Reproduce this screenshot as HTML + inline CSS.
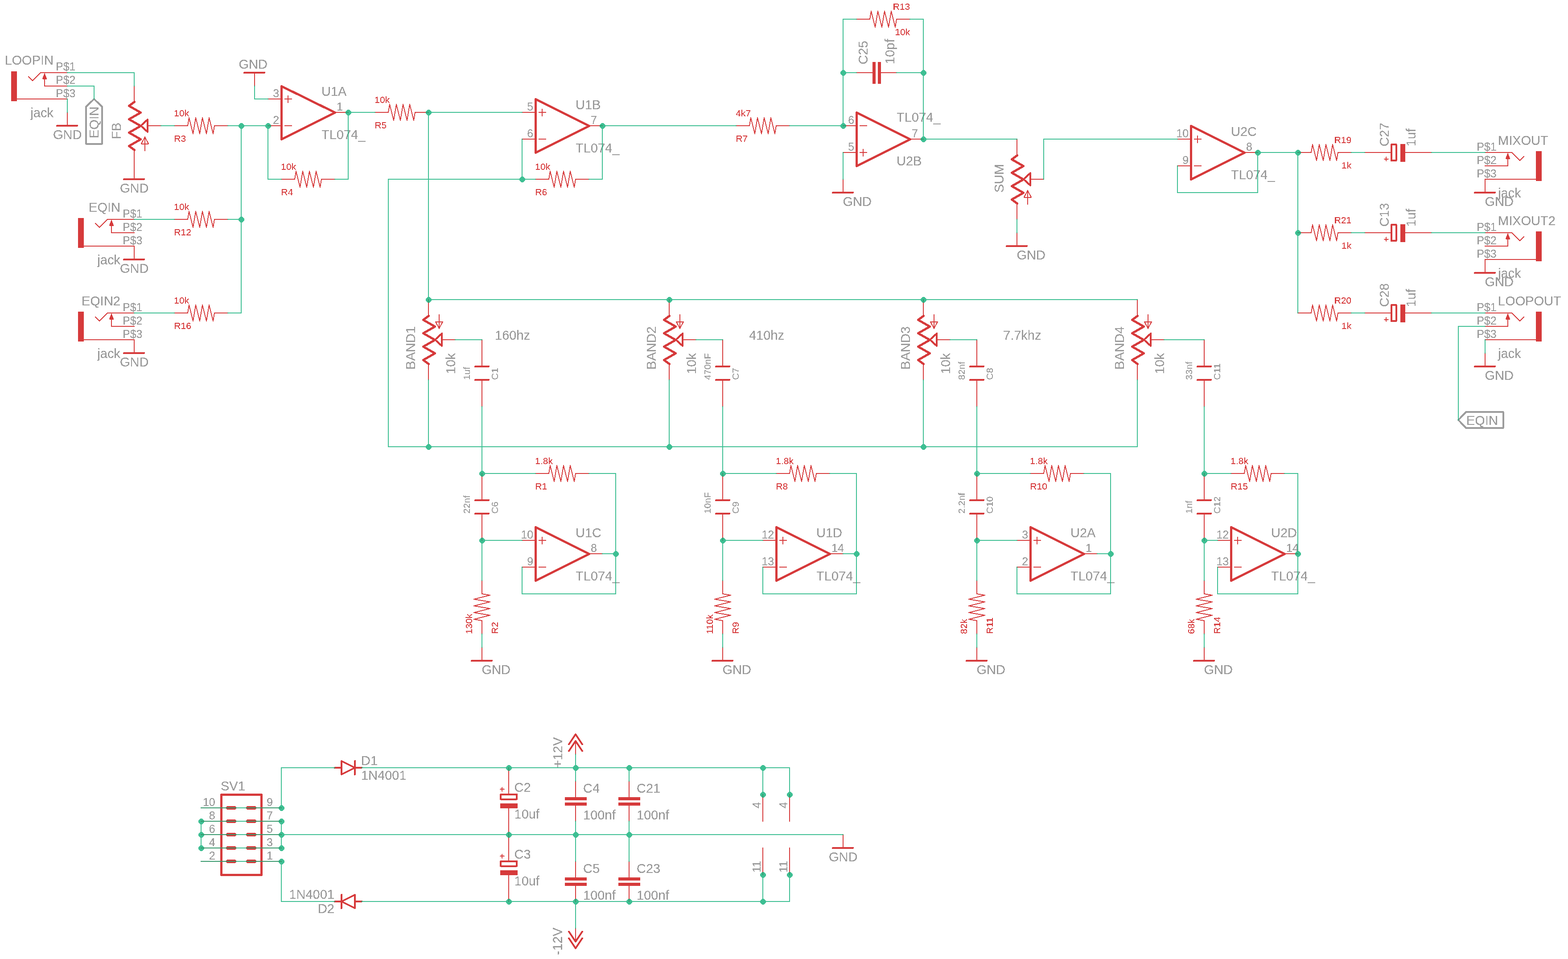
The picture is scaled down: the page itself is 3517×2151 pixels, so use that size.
<!DOCTYPE html>
<html lang="en"><head><meta charset="utf-8"><title>4 band EQ schematic</title>
<style>html,body{margin:0;padding:0;background:#fff}body{width:3517px;height:2151px}svg{display:block}text{font-family:"Liberation Sans",Arial,Helvetica,sans-serif}.fl{fill:inherit}</style></head><body>
<svg width="3517" height="2151" viewBox="0 0 3517 2151" role="img" aria-label="4 band equaliser schematic">
<rect width="3517" height="2151" fill="#fff"/>
<defs><filter id="th" x="0" y="0" width="3517" height="2151" filterUnits="userSpaceOnUse" color-interpolation-filters="sRGB"><feComponentTransfer><feFuncA type="discrete" tableValues="0 0 1 1 1"/></feComponentTransfer></filter></defs>
<g opacity="0.8" fill="none" stroke="#cc090b" shape-rendering="crispEdges" style="fill:none">
<g style="fill:#cc090b">
<polygon points="100.5,164 105.5,178 95.5,178" stroke="none" class="fl"/>
<rect x="25" y="160" width="13" height="67" stroke="none" class="fl"/>
<polygon points="250.5,493 255.5,507 245.5,507" stroke="none" class="fl"/>
<rect x="175" y="489" width="13" height="67" stroke="none" class="fl"/>
<polygon points="250.5,703 255.5,717 245.5,717" stroke="none" class="fl"/>
<rect x="175" y="699" width="13" height="67" stroke="none" class="fl"/>
<polygon points="3382.5,343 3377.5,357 3387.5,357" stroke="none" class="fl"/>
<rect x="3445" y="339" width="13" height="67" stroke="none" class="fl"/>
<polygon points="3382.5,523 3377.5,537 3387.5,537" stroke="none" class="fl"/>
<rect x="3445" y="519" width="13" height="67" stroke="none" class="fl"/>
<polygon points="3382.5,703 3377.5,717 3387.5,717" stroke="none" class="fl"/>
<rect x="3445" y="699" width="13" height="67" stroke="none" class="fl"/>
<rect x="1957" y="139" width="7" height="49" stroke="none" class="fl"/>
<rect x="1969" y="139" width="7" height="49" stroke="none" class="fl"/>
<rect x="1267" y="1788" width="49" height="7" stroke="none" class="fl"/>
<rect x="1267" y="1800" width="49" height="7" stroke="none" class="fl"/>
<rect x="1387" y="1788" width="49" height="7" stroke="none" class="fl"/>
<rect x="1387" y="1800" width="49" height="7" stroke="none" class="fl"/>
<rect x="1267" y="1968" width="49" height="7" stroke="none" class="fl"/>
<rect x="1267" y="1980" width="49" height="7" stroke="none" class="fl"/>
<rect x="1387" y="1968" width="49" height="7" stroke="none" class="fl"/>
<rect x="1387" y="1980" width="49" height="7" stroke="none" class="fl"/>
<rect x="3141" y="323" width="11" height="40" stroke="none" class="fl"/>
<rect x="3141" y="503" width="11" height="40" stroke="none" class="fl"/>
<rect x="3141" y="683" width="11" height="40" stroke="none" class="fl"/>
<rect x="1122" y="1802" width="39" height="11" stroke="none" class="fl"/>
<rect x="1122" y="1952" width="39" height="11" stroke="none" class="fl"/>
</g>
<path d="M391 282 L421 282" stroke-width="2" stroke-linecap="round" stroke-linejoin="round"/>
<path d="M481 282 L511 282" stroke-width="2" stroke-linecap="round" stroke-linejoin="round"/>
<path d="M421 282 L424 264 L433 300 L439 264 L448 300 L454 264 L463 300 L469 264 L478 300 L481 282" stroke-width="2" stroke-linecap="round" stroke-linejoin="round"/>
<path d="M391 492 L421 492" stroke-width="2" stroke-linecap="round" stroke-linejoin="round"/>
<path d="M481 492 L511 492" stroke-width="2" stroke-linecap="round" stroke-linejoin="round"/>
<path d="M421 492 L424 474 L433 510 L439 474 L448 510 L454 474 L463 510 L469 474 L478 510 L481 492" stroke-width="2" stroke-linecap="round" stroke-linejoin="round"/>
<path d="M391 702 L421 702" stroke-width="2" stroke-linecap="round" stroke-linejoin="round"/>
<path d="M481 702 L511 702" stroke-width="2" stroke-linecap="round" stroke-linejoin="round"/>
<path d="M421 702 L424 684 L433 720 L439 684 L448 720 L454 684 L463 720 L469 684 L478 720 L481 702" stroke-width="2" stroke-linecap="round" stroke-linejoin="round"/>
<path d="M631 402 L661 402" stroke-width="2" stroke-linecap="round" stroke-linejoin="round"/>
<path d="M721 402 L751 402" stroke-width="2" stroke-linecap="round" stroke-linejoin="round"/>
<path d="M661 402 L664 384 L673 420 L679 384 L688 420 L694 384 L703 420 L709 384 L718 420 L721 402" stroke-width="2" stroke-linecap="round" stroke-linejoin="round"/>
<path d="M841 252 L871 252" stroke-width="2" stroke-linecap="round" stroke-linejoin="round"/>
<path d="M931 252 L961 252" stroke-width="2" stroke-linecap="round" stroke-linejoin="round"/>
<path d="M871 252 L874 234 L883 270 L889 234 L898 270 L904 234 L913 270 L919 234 L928 270 L931 252" stroke-width="2" stroke-linecap="round" stroke-linejoin="round"/>
<path d="M1201 402 L1231 402" stroke-width="2" stroke-linecap="round" stroke-linejoin="round"/>
<path d="M1291 402 L1321 402" stroke-width="2" stroke-linecap="round" stroke-linejoin="round"/>
<path d="M1231 402 L1234 384 L1243 420 L1249 384 L1258 420 L1264 384 L1273 420 L1279 384 L1288 420 L1291 402" stroke-width="2" stroke-linecap="round" stroke-linejoin="round"/>
<path d="M1651 282 L1681 282" stroke-width="2" stroke-linecap="round" stroke-linejoin="round"/>
<path d="M1741 282 L1771 282" stroke-width="2" stroke-linecap="round" stroke-linejoin="round"/>
<path d="M1681 282 L1684 264 L1693 300 L1699 264 L1708 300 L1714 264 L1723 300 L1729 264 L1738 300 L1741 282" stroke-width="2" stroke-linecap="round" stroke-linejoin="round"/>
<path d="M2041 43 L2011 43" stroke-width="2" stroke-linecap="round" stroke-linejoin="round"/>
<path d="M1951 43 L1921 43" stroke-width="2" stroke-linecap="round" stroke-linejoin="round"/>
<path d="M2011 43 L2008 61 L1999 25 L1993 61 L1984 25 L1978 61 L1969 25 L1963 61 L1954 25 L1951 43" stroke-width="2" stroke-linecap="round" stroke-linejoin="round"/>
<path d="M3031 342 L3001 342" stroke-width="2" stroke-linecap="round" stroke-linejoin="round"/>
<path d="M2941 342 L2911 342" stroke-width="2" stroke-linecap="round" stroke-linejoin="round"/>
<path d="M3001 342 L2998 360 L2989 324 L2983 360 L2974 324 L2968 360 L2959 324 L2953 360 L2944 324 L2941 342" stroke-width="2" stroke-linecap="round" stroke-linejoin="round"/>
<path d="M3031 522 L3001 522" stroke-width="2" stroke-linecap="round" stroke-linejoin="round"/>
<path d="M2941 522 L2911 522" stroke-width="2" stroke-linecap="round" stroke-linejoin="round"/>
<path d="M3001 522 L2998 540 L2989 504 L2983 540 L2974 504 L2968 540 L2959 504 L2953 540 L2944 504 L2941 522" stroke-width="2" stroke-linecap="round" stroke-linejoin="round"/>
<path d="M3031 702 L3001 702" stroke-width="2" stroke-linecap="round" stroke-linejoin="round"/>
<path d="M2941 702 L2911 702" stroke-width="2" stroke-linecap="round" stroke-linejoin="round"/>
<path d="M3001 702 L2998 720 L2989 684 L2983 720 L2974 684 L2968 720 L2959 684 L2953 720 L2944 684 L2941 702" stroke-width="2" stroke-linecap="round" stroke-linejoin="round"/>
<path d="M1201 1062 L1231 1062" stroke-width="2" stroke-linecap="round" stroke-linejoin="round"/>
<path d="M1291 1062 L1321 1062" stroke-width="2" stroke-linecap="round" stroke-linejoin="round"/>
<path d="M1231 1062 L1234 1044 L1243 1080 L1249 1044 L1258 1080 L1264 1044 L1273 1080 L1279 1044 L1288 1080 L1291 1062" stroke-width="2" stroke-linecap="round" stroke-linejoin="round"/>
<path d="M1741 1062 L1771 1062" stroke-width="2" stroke-linecap="round" stroke-linejoin="round"/>
<path d="M1831 1062 L1861 1062" stroke-width="2" stroke-linecap="round" stroke-linejoin="round"/>
<path d="M1771 1062 L1774 1044 L1783 1080 L1789 1044 L1798 1080 L1804 1044 L1813 1080 L1819 1044 L1828 1080 L1831 1062" stroke-width="2" stroke-linecap="round" stroke-linejoin="round"/>
<path d="M2311 1062 L2341 1062" stroke-width="2" stroke-linecap="round" stroke-linejoin="round"/>
<path d="M2401 1062 L2431 1062" stroke-width="2" stroke-linecap="round" stroke-linejoin="round"/>
<path d="M2341 1062 L2344 1044 L2353 1080 L2359 1044 L2368 1080 L2374 1044 L2383 1080 L2389 1044 L2398 1080 L2401 1062" stroke-width="2" stroke-linecap="round" stroke-linejoin="round"/>
<path d="M2761 1062 L2791 1062" stroke-width="2" stroke-linecap="round" stroke-linejoin="round"/>
<path d="M2851 1062 L2881 1062" stroke-width="2" stroke-linecap="round" stroke-linejoin="round"/>
<path d="M2791 1062 L2794 1044 L2803 1080 L2809 1044 L2818 1080 L2824 1044 L2833 1080 L2839 1044 L2848 1080 L2851 1062" stroke-width="2" stroke-linecap="round" stroke-linejoin="round"/>
<path d="M1081 1422 L1081 1392" stroke-width="2" stroke-linecap="round" stroke-linejoin="round"/>
<path d="M1081 1332 L1081 1302" stroke-width="2" stroke-linecap="round" stroke-linejoin="round"/>
<path d="M1081 1392 L1063 1389 L1099 1380 L1063 1374 L1099 1365 L1063 1359 L1099 1350 L1063 1344 L1099 1335 L1081 1332" stroke-width="2" stroke-linecap="round" stroke-linejoin="round"/>
<path d="M1621 1422 L1621 1392" stroke-width="2" stroke-linecap="round" stroke-linejoin="round"/>
<path d="M1621 1332 L1621 1302" stroke-width="2" stroke-linecap="round" stroke-linejoin="round"/>
<path d="M1621 1392 L1603 1389 L1639 1380 L1603 1374 L1639 1365 L1603 1359 L1639 1350 L1603 1344 L1639 1335 L1621 1332" stroke-width="2" stroke-linecap="round" stroke-linejoin="round"/>
<path d="M2191 1422 L2191 1392" stroke-width="2" stroke-linecap="round" stroke-linejoin="round"/>
<path d="M2191 1332 L2191 1302" stroke-width="2" stroke-linecap="round" stroke-linejoin="round"/>
<path d="M2191 1392 L2173 1389 L2209 1380 L2173 1374 L2209 1365 L2173 1359 L2209 1350 L2173 1344 L2209 1335 L2191 1332" stroke-width="2" stroke-linecap="round" stroke-linejoin="round"/>
<path d="M2701 1422 L2701 1392" stroke-width="2" stroke-linecap="round" stroke-linejoin="round"/>
<path d="M2701 1332 L2701 1302" stroke-width="2" stroke-linecap="round" stroke-linejoin="round"/>
<path d="M2701 1392 L2683 1389 L2719 1380 L2683 1374 L2719 1365 L2683 1359 L2719 1350 L2683 1344 L2719 1335 L2701 1332" stroke-width="2" stroke-linecap="round" stroke-linejoin="round"/>
<path d="M631.5 193.5 L751.5 252.5 L631.5 312.5Z" stroke-width="5" stroke-linecap="round" stroke-linejoin="round"/>
<path d="M601 222 L631 222" stroke-width="2" stroke-linecap="round" stroke-linejoin="round"/>
<path d="M601 282 L631 282" stroke-width="2" stroke-linecap="round" stroke-linejoin="round"/>
<path d="M781 252 L751 252" stroke-width="2" stroke-linecap="round" stroke-linejoin="round"/>
<path d="M638.5 222 L654.5 222" stroke-width="2" stroke-linecap="round" stroke-linejoin="round"/>
<path d="M646 214.5 L646 230.5" stroke-width="2" stroke-linecap="round" stroke-linejoin="round"/>
<path d="M638.5 282 L654.5 282" stroke-width="2" stroke-linecap="round" stroke-linejoin="round"/>
<path d="M1201.5 222.5 L1321.5 282.5 L1201.5 342.5Z" stroke-width="5" stroke-linecap="round" stroke-linejoin="round"/>
<path d="M1171 252 L1201 252" stroke-width="2" stroke-linecap="round" stroke-linejoin="round"/>
<path d="M1171 312 L1201 312" stroke-width="2" stroke-linecap="round" stroke-linejoin="round"/>
<path d="M1351 282 L1321 282" stroke-width="2" stroke-linecap="round" stroke-linejoin="round"/>
<path d="M1208.5 252 L1224.5 252" stroke-width="2" stroke-linecap="round" stroke-linejoin="round"/>
<path d="M1216 244.5 L1216 260.5" stroke-width="2" stroke-linecap="round" stroke-linejoin="round"/>
<path d="M1208.5 312 L1224.5 312" stroke-width="2" stroke-linecap="round" stroke-linejoin="round"/>
<path d="M1921.5 372.5 L2041.5 312.5 L1921.5 252.5Z" stroke-width="5" stroke-linecap="round" stroke-linejoin="round"/>
<path d="M1891 342 L1921 342" stroke-width="2" stroke-linecap="round" stroke-linejoin="round"/>
<path d="M1891 282 L1921 282" stroke-width="2" stroke-linecap="round" stroke-linejoin="round"/>
<path d="M2071 312 L2041 312" stroke-width="2" stroke-linecap="round" stroke-linejoin="round"/>
<path d="M1928.5 342 L1944.5 342" stroke-width="2" stroke-linecap="round" stroke-linejoin="round"/>
<path d="M1936 334.5 L1936 350.5" stroke-width="2" stroke-linecap="round" stroke-linejoin="round"/>
<path d="M1928.5 282 L1944.5 282" stroke-width="2" stroke-linecap="round" stroke-linejoin="round"/>
<path d="M2671.5 282.5 L2791.5 342.5 L2671.5 402.5Z" stroke-width="5" stroke-linecap="round" stroke-linejoin="round"/>
<path d="M2641 312 L2671 312" stroke-width="2" stroke-linecap="round" stroke-linejoin="round"/>
<path d="M2641 372 L2671 372" stroke-width="2" stroke-linecap="round" stroke-linejoin="round"/>
<path d="M2821 342 L2791 342" stroke-width="2" stroke-linecap="round" stroke-linejoin="round"/>
<path d="M2678.5 312 L2694.5 312" stroke-width="2" stroke-linecap="round" stroke-linejoin="round"/>
<path d="M2686 304.5 L2686 320.5" stroke-width="2" stroke-linecap="round" stroke-linejoin="round"/>
<path d="M2678.5 372 L2694.5 372" stroke-width="2" stroke-linecap="round" stroke-linejoin="round"/>
<path d="M1201.5 1182.5 L1321.5 1242.5 L1201.5 1302.5Z" stroke-width="5" stroke-linecap="round" stroke-linejoin="round"/>
<path d="M1171 1212 L1201 1212" stroke-width="2" stroke-linecap="round" stroke-linejoin="round"/>
<path d="M1171 1272 L1201 1272" stroke-width="2" stroke-linecap="round" stroke-linejoin="round"/>
<path d="M1351 1242 L1321 1242" stroke-width="2" stroke-linecap="round" stroke-linejoin="round"/>
<path d="M1208.5 1212 L1224.5 1212" stroke-width="2" stroke-linecap="round" stroke-linejoin="round"/>
<path d="M1216 1204.5 L1216 1220.5" stroke-width="2" stroke-linecap="round" stroke-linejoin="round"/>
<path d="M1208.5 1272 L1224.5 1272" stroke-width="2" stroke-linecap="round" stroke-linejoin="round"/>
<path d="M1741.5 1182.5 L1861.5 1242.5 L1741.5 1302.5Z" stroke-width="5" stroke-linecap="round" stroke-linejoin="round"/>
<path d="M1711 1212 L1741 1212" stroke-width="2" stroke-linecap="round" stroke-linejoin="round"/>
<path d="M1711 1272 L1741 1272" stroke-width="2" stroke-linecap="round" stroke-linejoin="round"/>
<path d="M1891 1242 L1861 1242" stroke-width="2" stroke-linecap="round" stroke-linejoin="round"/>
<path d="M1748.5 1212 L1764.5 1212" stroke-width="2" stroke-linecap="round" stroke-linejoin="round"/>
<path d="M1756 1204.5 L1756 1220.5" stroke-width="2" stroke-linecap="round" stroke-linejoin="round"/>
<path d="M1748.5 1272 L1764.5 1272" stroke-width="2" stroke-linecap="round" stroke-linejoin="round"/>
<path d="M2311.5 1182.5 L2431.5 1242.5 L2311.5 1302.5Z" stroke-width="5" stroke-linecap="round" stroke-linejoin="round"/>
<path d="M2281 1212 L2311 1212" stroke-width="2" stroke-linecap="round" stroke-linejoin="round"/>
<path d="M2281 1272 L2311 1272" stroke-width="2" stroke-linecap="round" stroke-linejoin="round"/>
<path d="M2461 1242 L2431 1242" stroke-width="2" stroke-linecap="round" stroke-linejoin="round"/>
<path d="M2318.5 1212 L2334.5 1212" stroke-width="2" stroke-linecap="round" stroke-linejoin="round"/>
<path d="M2326 1204.5 L2326 1220.5" stroke-width="2" stroke-linecap="round" stroke-linejoin="round"/>
<path d="M2318.5 1272 L2334.5 1272" stroke-width="2" stroke-linecap="round" stroke-linejoin="round"/>
<path d="M2761.5 1182.5 L2881.5 1242.5 L2761.5 1302.5Z" stroke-width="5" stroke-linecap="round" stroke-linejoin="round"/>
<path d="M2731 1212 L2761 1212" stroke-width="2" stroke-linecap="round" stroke-linejoin="round"/>
<path d="M2731 1272 L2761 1272" stroke-width="2" stroke-linecap="round" stroke-linejoin="round"/>
<path d="M2911 1242 L2881 1242" stroke-width="2" stroke-linecap="round" stroke-linejoin="round"/>
<path d="M2768.5 1212 L2784.5 1212" stroke-width="2" stroke-linecap="round" stroke-linejoin="round"/>
<path d="M2776 1204.5 L2776 1220.5" stroke-width="2" stroke-linecap="round" stroke-linejoin="round"/>
<path d="M2768.5 1272 L2784.5 1272" stroke-width="2" stroke-linecap="round" stroke-linejoin="round"/>
<path d="M301 193 L301 228" stroke-width="2" stroke-linecap="round" stroke-linejoin="round"/>
<path d="M301 372 L301 336" stroke-width="2" stroke-linecap="round" stroke-linejoin="round"/>
<path d="M301.5 228.5 L289.5 237.5 L315.5 252.5 L289.5 267.5 L315.5 282.5 L289.5 297.5 L315.5 312.5 L289.5 327.5 L301.5 336.5" stroke-width="5" stroke-linecap="round" stroke-linejoin="round"/>
<path d="M316 282 L331 268 L331 296Z" stroke-width="4" stroke-linecap="round" stroke-linejoin="round"/>
<path d="M331 282 L361 282" stroke-width="2" stroke-linecap="round" stroke-linejoin="round"/>
<path d="M325 338 L325 307" stroke-width="2" stroke-linecap="round" stroke-linejoin="round"/>
<path d="M317 322.5 L333 322.5 L325 307Z" stroke-width="2" stroke-linecap="round" stroke-linejoin="round"/>
<path d="M2281 312 L2281 348" stroke-width="2" stroke-linecap="round" stroke-linejoin="round"/>
<path d="M2281 492 L2281 456" stroke-width="2" stroke-linecap="round" stroke-linejoin="round"/>
<path d="M2281.5 348.5 L2269.5 357.5 L2295.5 372.5 L2269.5 387.5 L2295.5 402.5 L2269.5 417.5 L2295.5 432.5 L2269.5 447.5 L2281.5 456.5" stroke-width="5" stroke-linecap="round" stroke-linejoin="round"/>
<path d="M2296 402 L2311 388 L2311 416Z" stroke-width="4" stroke-linecap="round" stroke-linejoin="round"/>
<path d="M2311 402 L2341 402" stroke-width="2" stroke-linecap="round" stroke-linejoin="round"/>
<path d="M2305 458 L2305 427" stroke-width="2" stroke-linecap="round" stroke-linejoin="round"/>
<path d="M2297 442.5 L2313 442.5 L2305 427Z" stroke-width="2" stroke-linecap="round" stroke-linejoin="round"/>
<path d="M961 852 L961 816" stroke-width="2" stroke-linecap="round" stroke-linejoin="round"/>
<path d="M961 672 L961 708" stroke-width="2" stroke-linecap="round" stroke-linejoin="round"/>
<path d="M961.5 816.5 L949.5 807.5 L975.5 792.5 L949.5 777.5 L975.5 762.5 L949.5 747.5 L975.5 732.5 L949.5 717.5 L961.5 708.5" stroke-width="5" stroke-linecap="round" stroke-linejoin="round"/>
<path d="M976 762 L991 776 L991 748Z" stroke-width="4" stroke-linecap="round" stroke-linejoin="round"/>
<path d="M991 762 L1021 762" stroke-width="2" stroke-linecap="round" stroke-linejoin="round"/>
<path d="M985 706 L985 737" stroke-width="2" stroke-linecap="round" stroke-linejoin="round"/>
<path d="M977 721.5 L993 721.5 L985 737Z" stroke-width="2" stroke-linecap="round" stroke-linejoin="round"/>
<path d="M1501 852 L1501 816" stroke-width="2" stroke-linecap="round" stroke-linejoin="round"/>
<path d="M1501 672 L1501 708" stroke-width="2" stroke-linecap="round" stroke-linejoin="round"/>
<path d="M1501.5 816.5 L1489.5 807.5 L1515.5 792.5 L1489.5 777.5 L1515.5 762.5 L1489.5 747.5 L1515.5 732.5 L1489.5 717.5 L1501.5 708.5" stroke-width="5" stroke-linecap="round" stroke-linejoin="round"/>
<path d="M1516 762 L1531 776 L1531 748Z" stroke-width="4" stroke-linecap="round" stroke-linejoin="round"/>
<path d="M1531 762 L1561 762" stroke-width="2" stroke-linecap="round" stroke-linejoin="round"/>
<path d="M1525 706 L1525 737" stroke-width="2" stroke-linecap="round" stroke-linejoin="round"/>
<path d="M1517 721.5 L1533 721.5 L1525 737Z" stroke-width="2" stroke-linecap="round" stroke-linejoin="round"/>
<path d="M2071 852 L2071 816" stroke-width="2" stroke-linecap="round" stroke-linejoin="round"/>
<path d="M2071 672 L2071 708" stroke-width="2" stroke-linecap="round" stroke-linejoin="round"/>
<path d="M2071.5 816.5 L2059.5 807.5 L2085.5 792.5 L2059.5 777.5 L2085.5 762.5 L2059.5 747.5 L2085.5 732.5 L2059.5 717.5 L2071.5 708.5" stroke-width="5" stroke-linecap="round" stroke-linejoin="round"/>
<path d="M2086 762 L2101 776 L2101 748Z" stroke-width="4" stroke-linecap="round" stroke-linejoin="round"/>
<path d="M2101 762 L2131 762" stroke-width="2" stroke-linecap="round" stroke-linejoin="round"/>
<path d="M2095 706 L2095 737" stroke-width="2" stroke-linecap="round" stroke-linejoin="round"/>
<path d="M2087 721.5 L2103 721.5 L2095 737Z" stroke-width="2" stroke-linecap="round" stroke-linejoin="round"/>
<path d="M2551 852 L2551 816" stroke-width="2" stroke-linecap="round" stroke-linejoin="round"/>
<path d="M2551 672 L2551 708" stroke-width="2" stroke-linecap="round" stroke-linejoin="round"/>
<path d="M2551.5 816.5 L2539.5 807.5 L2565.5 792.5 L2539.5 777.5 L2565.5 762.5 L2539.5 747.5 L2565.5 732.5 L2539.5 717.5 L2551.5 708.5" stroke-width="5" stroke-linecap="round" stroke-linejoin="round"/>
<path d="M2566 762 L2581 776 L2581 748Z" stroke-width="4" stroke-linecap="round" stroke-linejoin="round"/>
<path d="M2581 762 L2611 762" stroke-width="2" stroke-linecap="round" stroke-linejoin="round"/>
<path d="M2575 706 L2575 737" stroke-width="2" stroke-linecap="round" stroke-linejoin="round"/>
<path d="M2567 721.5 L2583 721.5 L2575 737Z" stroke-width="2" stroke-linecap="round" stroke-linejoin="round"/>
<path d="M151 163 L91 163 L73 181 L64 172" stroke-width="2" stroke-linecap="round" stroke-linejoin="round"/>
<path d="M151 193 L100 193 L100 173" stroke-width="2" stroke-linecap="square" stroke-linejoin="miter"/>
<path d="M100 166 L104 176.5 L96 176.5Z" stroke-width="2" stroke-linecap="round" stroke-linejoin="round"/>
<path d="M151 222 L37.5 222" stroke-width="2" stroke-linecap="round" stroke-linejoin="round"/>
<path d="M301 492 L241 492 L223 510 L214 501" stroke-width="2" stroke-linecap="round" stroke-linejoin="round"/>
<path d="M301 522 L250 522 L250 502" stroke-width="2" stroke-linecap="square" stroke-linejoin="miter"/>
<path d="M250 495 L254 505.5 L246 505.5Z" stroke-width="2" stroke-linecap="round" stroke-linejoin="round"/>
<path d="M301 552 L187.5 552" stroke-width="2" stroke-linecap="round" stroke-linejoin="round"/>
<path d="M301 702 L241 702 L223 720 L214 711" stroke-width="2" stroke-linecap="round" stroke-linejoin="round"/>
<path d="M301 732 L250 732 L250 712" stroke-width="2" stroke-linecap="square" stroke-linejoin="miter"/>
<path d="M250 705 L254 715.5 L246 715.5Z" stroke-width="2" stroke-linecap="round" stroke-linejoin="round"/>
<path d="M301 762 L187.5 762" stroke-width="2" stroke-linecap="round" stroke-linejoin="round"/>
<path d="M3331 342 L3391 342 L3409 360 L3418 351" stroke-width="2" stroke-linecap="round" stroke-linejoin="round"/>
<path d="M3331 372 L3382 372 L3382 352" stroke-width="2" stroke-linecap="square" stroke-linejoin="miter"/>
<path d="M3382 345 L3378 355.5 L3386 355.5Z" stroke-width="2" stroke-linecap="round" stroke-linejoin="round"/>
<path d="M3331 402 L3444.5 402" stroke-width="2" stroke-linecap="round" stroke-linejoin="round"/>
<path d="M3331 522 L3391 522 L3409 540 L3418 531" stroke-width="2" stroke-linecap="round" stroke-linejoin="round"/>
<path d="M3331 552 L3382 552 L3382 532" stroke-width="2" stroke-linecap="square" stroke-linejoin="miter"/>
<path d="M3382 525 L3378 535.5 L3386 535.5Z" stroke-width="2" stroke-linecap="round" stroke-linejoin="round"/>
<path d="M3331 582 L3444.5 582" stroke-width="2" stroke-linecap="round" stroke-linejoin="round"/>
<path d="M3331 702 L3391 702 L3409 720 L3418 711" stroke-width="2" stroke-linecap="round" stroke-linejoin="round"/>
<path d="M3331 732 L3382 732 L3382 712" stroke-width="2" stroke-linecap="square" stroke-linejoin="miter"/>
<path d="M3382 705 L3378 715.5 L3386 715.5Z" stroke-width="2" stroke-linecap="round" stroke-linejoin="round"/>
<path d="M3331 762 L3444.5 762" stroke-width="2" stroke-linecap="round" stroke-linejoin="round"/>
<path d="M128 282 L173 282" stroke-width="4" stroke-linecap="round" stroke-linejoin="round"/>
<path d="M151 282 L151 252" stroke-width="2" stroke-linecap="round" stroke-linejoin="round"/>
<path d="M278 402 L323 402" stroke-width="4" stroke-linecap="round" stroke-linejoin="round"/>
<path d="M301 402 L301 372" stroke-width="2" stroke-linecap="round" stroke-linejoin="round"/>
<path d="M548 163 L593 163" stroke-width="4" stroke-linecap="round" stroke-linejoin="round"/>
<path d="M571 163 L571 193" stroke-width="2" stroke-linecap="round" stroke-linejoin="round"/>
<path d="M278 582 L323 582" stroke-width="4" stroke-linecap="round" stroke-linejoin="round"/>
<path d="M301 582 L301 552" stroke-width="2" stroke-linecap="round" stroke-linejoin="round"/>
<path d="M278 792 L323 792" stroke-width="4" stroke-linecap="round" stroke-linejoin="round"/>
<path d="M301 792 L301 762" stroke-width="2" stroke-linecap="round" stroke-linejoin="round"/>
<path d="M1868 432 L1913 432" stroke-width="4" stroke-linecap="round" stroke-linejoin="round"/>
<path d="M1891 432 L1891 402" stroke-width="2" stroke-linecap="round" stroke-linejoin="round"/>
<path d="M2258 552 L2303 552" stroke-width="4" stroke-linecap="round" stroke-linejoin="round"/>
<path d="M2281 552 L2281 522" stroke-width="2" stroke-linecap="round" stroke-linejoin="round"/>
<path d="M3308 432 L3353 432" stroke-width="4" stroke-linecap="round" stroke-linejoin="round"/>
<path d="M3331 432 L3331 402" stroke-width="2" stroke-linecap="round" stroke-linejoin="round"/>
<path d="M3308 612 L3353 612" stroke-width="4" stroke-linecap="round" stroke-linejoin="round"/>
<path d="M3331 612 L3331 582" stroke-width="2" stroke-linecap="round" stroke-linejoin="round"/>
<path d="M3308 822 L3353 822" stroke-width="4" stroke-linecap="round" stroke-linejoin="round"/>
<path d="M3331 822 L3331 792" stroke-width="2" stroke-linecap="round" stroke-linejoin="round"/>
<path d="M1058 1482 L1103 1482" stroke-width="4" stroke-linecap="round" stroke-linejoin="round"/>
<path d="M1081 1482 L1081 1452" stroke-width="2" stroke-linecap="round" stroke-linejoin="round"/>
<path d="M1598 1482 L1643 1482" stroke-width="4" stroke-linecap="round" stroke-linejoin="round"/>
<path d="M1621 1482 L1621 1452" stroke-width="2" stroke-linecap="round" stroke-linejoin="round"/>
<path d="M2168 1482 L2213 1482" stroke-width="4" stroke-linecap="round" stroke-linejoin="round"/>
<path d="M2191 1482 L2191 1452" stroke-width="2" stroke-linecap="round" stroke-linejoin="round"/>
<path d="M2678 1482 L2723 1482" stroke-width="4" stroke-linecap="round" stroke-linejoin="round"/>
<path d="M2701 1482 L2701 1452" stroke-width="2" stroke-linecap="round" stroke-linejoin="round"/>
<path d="M1868 1902 L1913 1902" stroke-width="4" stroke-linecap="round" stroke-linejoin="round"/>
<path d="M1891 1902 L1891 1872" stroke-width="2" stroke-linecap="round" stroke-linejoin="round"/>
<path d="M1081 762 L1081 822" stroke-width="2" stroke-linecap="round" stroke-linejoin="round"/>
<path d="M1081 852 L1081 912" stroke-width="2" stroke-linecap="round" stroke-linejoin="round"/>
<path d="M1066 822 L1096 822" stroke-width="4" stroke-linecap="round" stroke-linejoin="round"/>
<path d="M1066 852 L1096 852" stroke-width="4" stroke-linecap="round" stroke-linejoin="round"/>
<path d="M1621 762 L1621 822" stroke-width="2" stroke-linecap="round" stroke-linejoin="round"/>
<path d="M1621 852 L1621 912" stroke-width="2" stroke-linecap="round" stroke-linejoin="round"/>
<path d="M1606 822 L1636 822" stroke-width="4" stroke-linecap="round" stroke-linejoin="round"/>
<path d="M1606 852 L1636 852" stroke-width="4" stroke-linecap="round" stroke-linejoin="round"/>
<path d="M2191 762 L2191 822" stroke-width="2" stroke-linecap="round" stroke-linejoin="round"/>
<path d="M2191 852 L2191 912" stroke-width="2" stroke-linecap="round" stroke-linejoin="round"/>
<path d="M2176 822 L2206 822" stroke-width="4" stroke-linecap="round" stroke-linejoin="round"/>
<path d="M2176 852 L2206 852" stroke-width="4" stroke-linecap="round" stroke-linejoin="round"/>
<path d="M2701 762 L2701 822" stroke-width="2" stroke-linecap="round" stroke-linejoin="round"/>
<path d="M2701 852 L2701 912" stroke-width="2" stroke-linecap="round" stroke-linejoin="round"/>
<path d="M2686 822 L2716 822" stroke-width="4" stroke-linecap="round" stroke-linejoin="round"/>
<path d="M2686 852 L2716 852" stroke-width="4" stroke-linecap="round" stroke-linejoin="round"/>
<path d="M1081 1062 L1081 1122" stroke-width="2" stroke-linecap="round" stroke-linejoin="round"/>
<path d="M1081 1152 L1081 1212" stroke-width="2" stroke-linecap="round" stroke-linejoin="round"/>
<path d="M1066 1122 L1096 1122" stroke-width="4" stroke-linecap="round" stroke-linejoin="round"/>
<path d="M1066 1152 L1096 1152" stroke-width="4" stroke-linecap="round" stroke-linejoin="round"/>
<path d="M1621 1062 L1621 1122" stroke-width="2" stroke-linecap="round" stroke-linejoin="round"/>
<path d="M1621 1152 L1621 1212" stroke-width="2" stroke-linecap="round" stroke-linejoin="round"/>
<path d="M1606 1122 L1636 1122" stroke-width="4" stroke-linecap="round" stroke-linejoin="round"/>
<path d="M1606 1152 L1636 1152" stroke-width="4" stroke-linecap="round" stroke-linejoin="round"/>
<path d="M2191 1062 L2191 1122" stroke-width="2" stroke-linecap="round" stroke-linejoin="round"/>
<path d="M2191 1152 L2191 1212" stroke-width="2" stroke-linecap="round" stroke-linejoin="round"/>
<path d="M2176 1122 L2206 1122" stroke-width="4" stroke-linecap="round" stroke-linejoin="round"/>
<path d="M2176 1152 L2206 1152" stroke-width="4" stroke-linecap="round" stroke-linejoin="round"/>
<path d="M2701 1062 L2701 1122" stroke-width="2" stroke-linecap="round" stroke-linejoin="round"/>
<path d="M2701 1152 L2701 1212" stroke-width="2" stroke-linecap="round" stroke-linejoin="round"/>
<path d="M2686 1122 L2716 1122" stroke-width="4" stroke-linecap="round" stroke-linejoin="round"/>
<path d="M2686 1152 L2716 1152" stroke-width="4" stroke-linecap="round" stroke-linejoin="round"/>
<path d="M1921 163 L1957 163" stroke-width="2" stroke-linecap="round" stroke-linejoin="round"/>
<path d="M2011 163 L1975 163" stroke-width="2" stroke-linecap="round" stroke-linejoin="round"/>
<path d="M1291 1752 L1291 1788" stroke-width="2" stroke-linecap="round" stroke-linejoin="round"/>
<path d="M1291 1842 L1291 1806" stroke-width="2" stroke-linecap="round" stroke-linejoin="round"/>
<path d="M1411 1752 L1411 1788" stroke-width="2" stroke-linecap="round" stroke-linejoin="round"/>
<path d="M1411 1842 L1411 1806" stroke-width="2" stroke-linecap="round" stroke-linejoin="round"/>
<path d="M1291 1932 L1291 1968" stroke-width="2" stroke-linecap="round" stroke-linejoin="round"/>
<path d="M1291 2022 L1291 1986" stroke-width="2" stroke-linecap="round" stroke-linejoin="round"/>
<path d="M1411 1932 L1411 1968" stroke-width="2" stroke-linecap="round" stroke-linejoin="round"/>
<path d="M1411 2022 L1411 1986" stroke-width="2" stroke-linecap="round" stroke-linejoin="round"/>
<path d="M3061 342 L3121 342" stroke-width="2" stroke-linecap="round" stroke-linejoin="round"/>
<path d="M3211 342 L3151 342" stroke-width="2" stroke-linecap="round" stroke-linejoin="round"/>
<path d="M3121 360 L3121 324 L3131.5 324 L3131.5 360Z" stroke-width="4" stroke-linecap="round" stroke-linejoin="round"/>
<path d="M3104.9 356.6 L3113.9 356.6" stroke-width="2" stroke-linecap="round" stroke-linejoin="round"/>
<path d="M3109.4 352.1 L3109.4 361.1" stroke-width="2" stroke-linecap="round" stroke-linejoin="round"/>
<path d="M3061 522 L3121 522" stroke-width="2" stroke-linecap="round" stroke-linejoin="round"/>
<path d="M3211 522 L3151 522" stroke-width="2" stroke-linecap="round" stroke-linejoin="round"/>
<path d="M3121 540 L3121 504 L3131.5 504 L3131.5 540Z" stroke-width="4" stroke-linecap="round" stroke-linejoin="round"/>
<path d="M3104.9 536.6 L3113.9 536.6" stroke-width="2" stroke-linecap="round" stroke-linejoin="round"/>
<path d="M3109.4 532.1 L3109.4 541.1" stroke-width="2" stroke-linecap="round" stroke-linejoin="round"/>
<path d="M3061 702 L3121 702" stroke-width="2" stroke-linecap="round" stroke-linejoin="round"/>
<path d="M3211 702 L3151 702" stroke-width="2" stroke-linecap="round" stroke-linejoin="round"/>
<path d="M3121 720 L3121 684 L3131.5 684 L3131.5 720Z" stroke-width="4" stroke-linecap="round" stroke-linejoin="round"/>
<path d="M3104.9 716.6 L3113.9 716.6" stroke-width="2" stroke-linecap="round" stroke-linejoin="round"/>
<path d="M3109.4 712.1 L3109.4 721.1" stroke-width="2" stroke-linecap="round" stroke-linejoin="round"/>
<path d="M1141 1722 L1141 1782" stroke-width="2" stroke-linecap="round" stroke-linejoin="round"/>
<path d="M1141 1872 L1141 1812" stroke-width="2" stroke-linecap="round" stroke-linejoin="round"/>
<path d="M1123 1782 L1159 1782 L1159 1792.5 L1123 1792.5Z" stroke-width="4" stroke-linecap="round" stroke-linejoin="round"/>
<path d="M1121.9 1770.4 L1130.9 1770.4" stroke-width="2" stroke-linecap="round" stroke-linejoin="round"/>
<path d="M1126.4 1765.9 L1126.4 1774.9" stroke-width="2" stroke-linecap="round" stroke-linejoin="round"/>
<path d="M1141 1872 L1141 1932" stroke-width="2" stroke-linecap="round" stroke-linejoin="round"/>
<path d="M1141 2022 L1141 1962" stroke-width="2" stroke-linecap="round" stroke-linejoin="round"/>
<path d="M1123 1932 L1159 1932 L1159 1942.5 L1123 1942.5Z" stroke-width="4" stroke-linecap="round" stroke-linejoin="round"/>
<path d="M1121.9 1920.4 L1130.9 1920.4" stroke-width="2" stroke-linecap="round" stroke-linejoin="round"/>
<path d="M1126.4 1915.9 L1126.4 1924.9" stroke-width="2" stroke-linecap="round" stroke-linejoin="round"/>
<path d="M751 1722 L766 1722" stroke-width="4" stroke-linecap="round" stroke-linejoin="round"/>
<path d="M796 1722 L811 1722" stroke-width="4" stroke-linecap="round" stroke-linejoin="round"/>
<path d="M766 1707 L796 1722 L766 1737Z" stroke-width="4" stroke-linecap="round" stroke-linejoin="round"/>
<path d="M796 1707 L796 1737" stroke-width="4" stroke-linecap="round" stroke-linejoin="round"/>
<path d="M811 2022 L796 2022" stroke-width="4" stroke-linecap="round" stroke-linejoin="round"/>
<path d="M766 2022 L751 2022" stroke-width="4" stroke-linecap="round" stroke-linejoin="round"/>
<path d="M796 2037 L766 2022 L796 2007Z" stroke-width="4" stroke-linecap="round" stroke-linejoin="round"/>
<path d="M766 2037 L766 2007" stroke-width="4" stroke-linecap="round" stroke-linejoin="round"/>
<path d="M496.5 1782.5 L586.5 1782.5 L586.5 1962.5 L496.5 1962.5Z" stroke-width="5" stroke-linecap="round" stroke-linejoin="round"/>
<path d="M451 1812 L511 1812" stroke-width="2" stroke-linecap="round" stroke-linejoin="round"/>
<path d="M631 1812 L571 1812" stroke-width="2" stroke-linecap="round" stroke-linejoin="round"/>
<path d="M511 1812 L526 1812" stroke-width="8" stroke-linecap="round" stroke-linejoin="round"/>
<path d="M556 1812 L571 1812" stroke-width="8" stroke-linecap="round" stroke-linejoin="round"/>
<path d="M451 1842 L511 1842" stroke-width="2" stroke-linecap="round" stroke-linejoin="round"/>
<path d="M631 1842 L571 1842" stroke-width="2" stroke-linecap="round" stroke-linejoin="round"/>
<path d="M511 1842 L526 1842" stroke-width="8" stroke-linecap="round" stroke-linejoin="round"/>
<path d="M556 1842 L571 1842" stroke-width="8" stroke-linecap="round" stroke-linejoin="round"/>
<path d="M451 1872 L511 1872" stroke-width="2" stroke-linecap="round" stroke-linejoin="round"/>
<path d="M631 1872 L571 1872" stroke-width="2" stroke-linecap="round" stroke-linejoin="round"/>
<path d="M511 1872 L526 1872" stroke-width="8" stroke-linecap="round" stroke-linejoin="round"/>
<path d="M556 1872 L571 1872" stroke-width="8" stroke-linecap="round" stroke-linejoin="round"/>
<path d="M451 1902 L511 1902" stroke-width="2" stroke-linecap="round" stroke-linejoin="round"/>
<path d="M631 1902 L571 1902" stroke-width="2" stroke-linecap="round" stroke-linejoin="round"/>
<path d="M511 1902 L526 1902" stroke-width="8" stroke-linecap="round" stroke-linejoin="round"/>
<path d="M556 1902 L571 1902" stroke-width="8" stroke-linecap="round" stroke-linejoin="round"/>
<path d="M451 1932 L511 1932" stroke-width="2" stroke-linecap="round" stroke-linejoin="round"/>
<path d="M631 1932 L571 1932" stroke-width="2" stroke-linecap="round" stroke-linejoin="round"/>
<path d="M511 1932 L526 1932" stroke-width="8" stroke-linecap="round" stroke-linejoin="round"/>
<path d="M556 1932 L571 1932" stroke-width="8" stroke-linecap="round" stroke-linejoin="round"/>
<path d="M1291 1692 L1291 1662" stroke-width="2" stroke-linecap="round" stroke-linejoin="round"/>
<path d="M1276 1684.5 L1291 1662 L1306 1684.5" stroke-width="4" stroke-linecap="round" stroke-linejoin="round"/>
<path d="M1276 1669.5 L1291 1647 L1306 1669.5" stroke-width="4" stroke-linecap="round" stroke-linejoin="round"/>
<path d="M1291 2082 L1291 2112" stroke-width="2" stroke-linecap="round" stroke-linejoin="round"/>
<path d="M1276 2089.5 L1291 2112 L1306 2089.5" stroke-width="4" stroke-linecap="round" stroke-linejoin="round"/>
<path d="M1276 2104.5 L1291 2127 L1306 2104.5" stroke-width="4" stroke-linecap="round" stroke-linejoin="round"/>
<path d="M1711 1782 L1711 1842" stroke-width="2" stroke-linecap="round" stroke-linejoin="round"/>
<path d="M1771 1782 L1771 1842" stroke-width="2" stroke-linecap="round" stroke-linejoin="round"/>
<path d="M1711 1962 L1711 1902" stroke-width="2" stroke-linecap="round" stroke-linejoin="round"/>
<path d="M1771 1962 L1771 1902" stroke-width="2" stroke-linecap="round" stroke-linejoin="round"/>
</g>
<g opacity="0.8" fill="#cc090b" stroke="none" filter="url(#th)">
<text x="390.3" y="261" font-size="21">10k</text>
<text x="390.3" y="318" font-size="21">R3</text>
<text x="390.3" y="471" font-size="21">10k</text>
<text x="390.3" y="528" font-size="21">R12</text>
<text x="390.3" y="681" font-size="21">10k</text>
<text x="390.3" y="738" font-size="21">R16</text>
<text x="630.3" y="381" font-size="21">10k</text>
<text x="630.3" y="438" font-size="21">R4</text>
<text x="840.3" y="231" font-size="21">10k</text>
<text x="840.3" y="288" font-size="21">R5</text>
<text x="1200.3" y="381" font-size="21">10k</text>
<text x="1200.3" y="438" font-size="21">R6</text>
<text x="1650.3" y="261" font-size="21">4k7</text>
<text x="1650.3" y="318" font-size="21">R7</text>
<text x="2041.3" y="22" font-size="21" text-anchor="end">R13</text>
<text x="2041.3" y="79" font-size="21" text-anchor="end">10k</text>
<text x="3031.3" y="321" font-size="21" text-anchor="end">R19</text>
<text x="3031.3" y="378" font-size="21" text-anchor="end">1k</text>
<text x="3031.3" y="501" font-size="21" text-anchor="end">R21</text>
<text x="3031.3" y="558" font-size="21" text-anchor="end">1k</text>
<text x="3031.3" y="681" font-size="21" text-anchor="end">R20</text>
<text x="3031.3" y="738" font-size="21" text-anchor="end">1k</text>
<text x="1200.3" y="1041" font-size="21">1.8k</text>
<text x="1200.3" y="1098" font-size="21">R1</text>
<text x="1740.3" y="1041" font-size="21">1.8k</text>
<text x="1740.3" y="1098" font-size="21">R8</text>
<text x="2310.3" y="1041" font-size="21">1.8k</text>
<text x="2310.3" y="1098" font-size="21">R10</text>
<text x="2760.3" y="1041" font-size="21">1.8k</text>
<text x="2760.3" y="1098" font-size="21">R15</text>
<text transform="translate(1059.2 1422) rotate(-90)" font-size="21">130k</text>
<text transform="translate(1116.5 1422) rotate(-90)" font-size="21">R2</text>
<text transform="translate(1599.2 1422) rotate(-90)" font-size="21">110k</text>
<text transform="translate(1656.5 1422) rotate(-90)" font-size="21">R9</text>
<text transform="translate(2169.2 1422) rotate(-90)" font-size="21">82k</text>
<text transform="translate(2226.5 1422) rotate(-90)" font-size="21">R11</text>
<text transform="translate(2679.2 1422) rotate(-90)" font-size="21">68k</text>
<text transform="translate(2736.5 1422) rotate(-90)" font-size="21">R14</text>
</g>
<g opacity="0.8" fill="none" stroke="#838383" shape-rendering="crispEdges">
<path d="M211 222 L193 239.5 L193 322.5 L229 322.5 L229 239.5Z" stroke-width="4" stroke-linecap="round" stroke-linejoin="round"/>
<path d="M3271 942 L3288.5 924 L3371.5 924 L3371.5 960 L3288.5 960Z" stroke-width="4" stroke-linecap="round" stroke-linejoin="round"/>
</g>
<g opacity="0.8" fill="#838383" stroke="none" filter="url(#th)">
<text x="626.2" y="218" font-size="25" text-anchor="end">3</text>
<text x="626.2" y="278" font-size="25" text-anchor="end">2</text>
<text x="755" y="248" font-size="25">1</text>
<text x="721" y="215" font-size="29">U1A</text>
<text x="721" y="312" font-size="29">TL074_</text>
<text x="1196.2" y="248" font-size="25" text-anchor="end">5</text>
<text x="1196.2" y="308" font-size="25" text-anchor="end">6</text>
<text x="1325" y="278" font-size="25">7</text>
<text x="1291" y="245" font-size="29">U1B</text>
<text x="1291" y="342" font-size="29">TL074_</text>
<text x="1916.2" y="278" font-size="25" text-anchor="end">6</text>
<text x="1916.2" y="338" font-size="25" text-anchor="end">5</text>
<text x="2045" y="308" font-size="25">7</text>
<text x="2011" y="273" font-size="29">TL074_</text>
<text x="2011" y="371" font-size="29">U2B</text>
<text x="2666.2" y="308" font-size="25" text-anchor="end">10</text>
<text x="2666.2" y="368" font-size="25" text-anchor="end">9</text>
<text x="2795" y="338" font-size="25">8</text>
<text x="2761" y="305" font-size="29">U2C</text>
<text x="2761" y="402" font-size="29">TL074_</text>
<text x="1196.2" y="1208" font-size="25" text-anchor="end">10</text>
<text x="1196.2" y="1268" font-size="25" text-anchor="end">9</text>
<text x="1325" y="1238" font-size="25">8</text>
<text x="1291" y="1205" font-size="29">U1C</text>
<text x="1291" y="1302" font-size="29">TL074_</text>
<text x="1736.2" y="1208" font-size="25" text-anchor="end">12</text>
<text x="1736.2" y="1268" font-size="25" text-anchor="end">13</text>
<text x="1865" y="1238" font-size="25">14</text>
<text x="1831" y="1205" font-size="29">U1D</text>
<text x="1831" y="1302" font-size="29">TL074_</text>
<text x="2306.2" y="1208" font-size="25" text-anchor="end">3</text>
<text x="2306.2" y="1268" font-size="25" text-anchor="end">2</text>
<text x="2435" y="1238" font-size="25">1</text>
<text x="2401" y="1205" font-size="29">U2A</text>
<text x="2401" y="1302" font-size="29">TL074_</text>
<text x="2756.2" y="1208" font-size="25" text-anchor="end">12</text>
<text x="2756.2" y="1268" font-size="25" text-anchor="end">13</text>
<text x="2885" y="1238" font-size="25">14</text>
<text x="2851" y="1205" font-size="29">U2D</text>
<text x="2851" y="1302" font-size="29">TL074_</text>
<text transform="translate(270.5 312) rotate(-90)" font-size="29">FB</text>
<text transform="translate(2250.5 432) rotate(-90)" font-size="29">SUM</text>
<text transform="translate(930.5 732) rotate(-90)" font-size="29" text-anchor="end">BAND1</text>
<text transform="translate(1020.5 792) rotate(-90)" font-size="29" text-anchor="end">10k</text>
<text transform="translate(1470.5 732) rotate(-90)" font-size="29" text-anchor="end">BAND2</text>
<text transform="translate(1560.5 792) rotate(-90)" font-size="29" text-anchor="end">10k</text>
<text transform="translate(2040.5 732) rotate(-90)" font-size="29" text-anchor="end">BAND3</text>
<text transform="translate(2130.5 792) rotate(-90)" font-size="29" text-anchor="end">10k</text>
<text transform="translate(2520.5 732) rotate(-90)" font-size="29" text-anchor="end">BAND4</text>
<text transform="translate(2610.5 792) rotate(-90)" font-size="29" text-anchor="end">10k</text>
<text x="125" y="158" font-size="25">P$1</text>
<text x="125" y="188" font-size="25">P$2</text>
<text x="125" y="218" font-size="25">P$3</text>
<text x="120" y="145" font-size="29" text-anchor="end">LOOPIN</text>
<text x="120" y="263" font-size="29" text-anchor="end">jack</text>
<text x="275" y="488" font-size="25">P$1</text>
<text x="275" y="518" font-size="25">P$2</text>
<text x="275" y="548" font-size="25">P$3</text>
<text x="270" y="475" font-size="29" text-anchor="end">EQIN</text>
<text x="270" y="593" font-size="29" text-anchor="end">jack</text>
<text x="275" y="698" font-size="25">P$1</text>
<text x="275" y="728" font-size="25">P$2</text>
<text x="275" y="758" font-size="25">P$3</text>
<text x="270" y="685" font-size="29" text-anchor="end">EQIN2</text>
<text x="270" y="803" font-size="29" text-anchor="end">jack</text>
<text x="3356.7" y="338" font-size="25" text-anchor="end">P$1</text>
<text x="3356.7" y="368" font-size="25" text-anchor="end">P$2</text>
<text x="3356.7" y="398" font-size="25" text-anchor="end">P$3</text>
<text x="3360" y="325" font-size="29">MIXOUT</text>
<text x="3360" y="443" font-size="29">jack</text>
<text x="3356.7" y="518" font-size="25" text-anchor="end">P$1</text>
<text x="3356.7" y="548" font-size="25" text-anchor="end">P$2</text>
<text x="3356.7" y="578" font-size="25" text-anchor="end">P$3</text>
<text x="3360" y="505" font-size="29">MIXOUT2</text>
<text x="3360" y="623" font-size="29">jack</text>
<text x="3356.7" y="698" font-size="25" text-anchor="end">P$1</text>
<text x="3356.7" y="728" font-size="25" text-anchor="end">P$2</text>
<text x="3356.7" y="758" font-size="25" text-anchor="end">P$3</text>
<text x="3360" y="685" font-size="29">LOOPOUT</text>
<text x="3360" y="803" font-size="29">jack</text>
<text x="119" y="312" font-size="29">GND</text>
<text x="269" y="432" font-size="29">GND</text>
<text x="600" y="154" font-size="29" text-anchor="end">GND</text>
<text x="269" y="612" font-size="29">GND</text>
<text x="269" y="822" font-size="29">GND</text>
<text x="1890.5" y="462" font-size="29">GND</text>
<text x="2280.5" y="582" font-size="29">GND</text>
<text x="3330.5" y="462" font-size="29">GND</text>
<text x="3330.5" y="642" font-size="29">GND</text>
<text x="3330.5" y="852" font-size="29">GND</text>
<text x="1080.5" y="1512" font-size="29">GND</text>
<text x="1620.5" y="1512" font-size="29">GND</text>
<text x="2190.5" y="1512" font-size="29">GND</text>
<text x="2700.5" y="1512" font-size="29">GND</text>
<text x="1859" y="1932" font-size="29">GND</text>
<text transform="translate(1053.5 852) rotate(-90)" font-size="21">1uf</text>
<text transform="translate(1116.8 852) rotate(-90)" font-size="21">C1</text>
<text transform="translate(1593.5 852) rotate(-90)" font-size="21">470nF</text>
<text transform="translate(1656.8 852) rotate(-90)" font-size="21">C7</text>
<text transform="translate(2163.5 852) rotate(-90)" font-size="21">82nf</text>
<text transform="translate(2226.8 852) rotate(-90)" font-size="21">C8</text>
<text transform="translate(2673.5 852) rotate(-90)" font-size="21">33nf</text>
<text transform="translate(2736.8 852) rotate(-90)" font-size="21">C11</text>
<text transform="translate(1053.5 1152) rotate(-90)" font-size="21">22nf</text>
<text transform="translate(1116.8 1152) rotate(-90)" font-size="21">C6</text>
<text transform="translate(1593.5 1152) rotate(-90)" font-size="21">10nF</text>
<text transform="translate(1656.8 1152) rotate(-90)" font-size="21">C9</text>
<text transform="translate(2163.5 1152) rotate(-90)" font-size="21">2.2nf</text>
<text transform="translate(2226.8 1152) rotate(-90)" font-size="21">C10</text>
<text transform="translate(2673.5 1152) rotate(-90)" font-size="21">1nf</text>
<text transform="translate(2736.8 1152) rotate(-90)" font-size="21">C12</text>
<text transform="translate(1946 144.5) rotate(-90)" font-size="29">C25</text>
<text transform="translate(2006 144) rotate(-90)" font-size="29">10pf</text>
<text x="1308" y="1778" font-size="29">C4</text>
<text x="1308" y="1838" font-size="29">100nf</text>
<text x="1428" y="1778" font-size="29">C21</text>
<text x="1428" y="1838" font-size="29">100nf</text>
<text x="1308" y="1958" font-size="29">C5</text>
<text x="1308" y="2018" font-size="29">100nf</text>
<text x="1428" y="1958" font-size="29">C23</text>
<text x="1428" y="2018" font-size="29">100nf</text>
<text transform="translate(3114.8 328.5) rotate(-90)" font-size="29">C27</text>
<text transform="translate(3174.8 328.5) rotate(-90)" font-size="29">1uf</text>
<text transform="translate(3114.8 508.5) rotate(-90)" font-size="29">C13</text>
<text transform="translate(3174.8 508.5) rotate(-90)" font-size="29">1uf</text>
<text transform="translate(3114.8 688.5) rotate(-90)" font-size="29">C28</text>
<text transform="translate(3174.8 688.5) rotate(-90)" font-size="29">1uf</text>
<text x="1153.5" y="1776" font-size="29">C2</text>
<text x="1153.5" y="1836" font-size="29">10uf</text>
<text x="1153.5" y="1926" font-size="29">C3</text>
<text x="1153.5" y="1986" font-size="29">10uf</text>
<text x="810" y="1716" font-size="29">D1</text>
<text x="810" y="1749" font-size="29">1N4001</text>
<text x="750" y="2048" font-size="29" text-anchor="end">D2</text>
<text x="750" y="2016" font-size="29" text-anchor="end">1N4001</text>
<text x="482.7" y="1808" font-size="25" text-anchor="end">10</text>
<text x="598" y="1808" font-size="25">9</text>
<text x="482.7" y="1838" font-size="25" text-anchor="end">8</text>
<text x="598" y="1838" font-size="25">7</text>
<text x="482.7" y="1868" font-size="25" text-anchor="end">6</text>
<text x="598" y="1868" font-size="25">5</text>
<text x="482.7" y="1898" font-size="25" text-anchor="end">4</text>
<text x="598" y="1898" font-size="25">3</text>
<text x="482.7" y="1928" font-size="25" text-anchor="end">2</text>
<text x="598" y="1928" font-size="25">1</text>
<text x="495" y="1773" font-size="29">SV1</text>
<text transform="translate(1260.5 1722) rotate(-90)" font-size="29">+12V</text>
<text transform="translate(1260.5 2142) rotate(-90)" font-size="29">-12V</text>
<text transform="translate(1705.5 1813) rotate(-90)" font-size="25">4</text>
<text transform="translate(1765.5 1813) rotate(-90)" font-size="25">4</text>
<text transform="translate(1705.5 1931) rotate(-90)" font-size="25" text-anchor="end">11</text>
<text transform="translate(1765.5 1931) rotate(-90)" font-size="25" text-anchor="end">11</text>
<text transform="translate(220.7 310) rotate(-90)" font-size="29">EQIN</text>
<text x="3289" y="953" font-size="29">EQIN</text>
<text x="1110" y="762" font-size="29">160hz</text>
<text x="1680" y="762" font-size="29">410hz</text>
<text x="2250" y="762" font-size="29">7.7khz</text>
</g>
<g opacity="0.8" fill="none" stroke="#0eaf78" shape-rendering="crispEdges">
<path d="M151 163 L301 163 L301 193" stroke-width="2" stroke-linecap="square" stroke-linejoin="miter"/>
<path d="M151 193 L211 193 L211 222" stroke-width="2" stroke-linecap="square" stroke-linejoin="miter"/>
<path d="M151 222 L151 252" stroke-width="2" stroke-linecap="square" stroke-linejoin="miter"/>
<path d="M361 282 L391 282" stroke-width="2" stroke-linecap="square" stroke-linejoin="miter"/>
<path d="M511 282 L601 282" stroke-width="2" stroke-linecap="square" stroke-linejoin="miter"/>
<path d="M541 282 L541 702 L511 702" stroke-width="2" stroke-linecap="square" stroke-linejoin="miter"/>
<path d="M511 492 L541 492" stroke-width="2" stroke-linecap="square" stroke-linejoin="miter"/>
<path d="M301 492 L391 492" stroke-width="2" stroke-linecap="square" stroke-linejoin="miter"/>
<path d="M301 702 L391 702" stroke-width="2" stroke-linecap="square" stroke-linejoin="miter"/>
<path d="M571 193 L571 222 L601 222" stroke-width="2" stroke-linecap="square" stroke-linejoin="miter"/>
<path d="M601 282 L601 402 L631 402" stroke-width="2" stroke-linecap="square" stroke-linejoin="miter"/>
<path d="M751 402 L781 402 L781 252" stroke-width="2" stroke-linecap="square" stroke-linejoin="miter"/>
<path d="M781 252 L841 252" stroke-width="2" stroke-linecap="square" stroke-linejoin="miter"/>
<path d="M961 252 L1171 252" stroke-width="2" stroke-linecap="square" stroke-linejoin="miter"/>
<path d="M961 252 L961 672" stroke-width="2" stroke-linecap="square" stroke-linejoin="miter"/>
<path d="M1171 312 L1171 402" stroke-width="2" stroke-linecap="square" stroke-linejoin="miter"/>
<path d="M871 402 L1201 402" stroke-width="2" stroke-linecap="square" stroke-linejoin="miter"/>
<path d="M1321 402 L1351 402 L1351 282" stroke-width="2" stroke-linecap="square" stroke-linejoin="miter"/>
<path d="M1351 282 L1651 282" stroke-width="2" stroke-linecap="square" stroke-linejoin="miter"/>
<path d="M871 402 L871 1002 L2551 1002 L2551 852" stroke-width="2" stroke-linecap="square" stroke-linejoin="miter"/>
<path d="M961 852 L961 1002" stroke-width="2" stroke-linecap="square" stroke-linejoin="miter"/>
<path d="M1501 852 L1501 1002" stroke-width="2" stroke-linecap="square" stroke-linejoin="miter"/>
<path d="M2071 852 L2071 1002" stroke-width="2" stroke-linecap="square" stroke-linejoin="miter"/>
<path d="M961 672 L2551 672" stroke-width="2" stroke-linecap="square" stroke-linejoin="miter"/>
<path d="M1771 282 L1891 282" stroke-width="2" stroke-linecap="square" stroke-linejoin="miter"/>
<path d="M1891 282 L1891 43 L1921 43" stroke-width="2" stroke-linecap="square" stroke-linejoin="miter"/>
<path d="M2041 43 L2071 43 L2071 312" stroke-width="2" stroke-linecap="square" stroke-linejoin="miter"/>
<path d="M1891 163 L1921 163" stroke-width="2" stroke-linecap="square" stroke-linejoin="miter"/>
<path d="M2011 163 L2071 163" stroke-width="2" stroke-linecap="square" stroke-linejoin="miter"/>
<path d="M1891 342 L1891 402" stroke-width="2" stroke-linecap="square" stroke-linejoin="miter"/>
<path d="M2071 312 L2281 312" stroke-width="2" stroke-linecap="square" stroke-linejoin="miter"/>
<path d="M2341 402 L2341 312 L2641 312" stroke-width="2" stroke-linecap="square" stroke-linejoin="miter"/>
<path d="M2281 492 L2281 522" stroke-width="2" stroke-linecap="square" stroke-linejoin="miter"/>
<path d="M2641 372 L2641 432 L2821 432 L2821 342" stroke-width="2" stroke-linecap="square" stroke-linejoin="miter"/>
<path d="M2821 342 L2911 342" stroke-width="2" stroke-linecap="square" stroke-linejoin="miter"/>
<path d="M2911 342 L2911 702" stroke-width="2" stroke-linecap="square" stroke-linejoin="miter"/>
<path d="M3031 342 L3061 342" stroke-width="2" stroke-linecap="square" stroke-linejoin="miter"/>
<path d="M3211 342 L3331 342" stroke-width="2" stroke-linecap="square" stroke-linejoin="miter"/>
<path d="M3031 522 L3061 522" stroke-width="2" stroke-linecap="square" stroke-linejoin="miter"/>
<path d="M3211 522 L3331 522" stroke-width="2" stroke-linecap="square" stroke-linejoin="miter"/>
<path d="M3031 702 L3061 702" stroke-width="2" stroke-linecap="square" stroke-linejoin="miter"/>
<path d="M3211 702 L3331 702" stroke-width="2" stroke-linecap="square" stroke-linejoin="miter"/>
<path d="M3331 732 L3271 732 L3271 942" stroke-width="2" stroke-linecap="square" stroke-linejoin="miter"/>
<path d="M3331 762 L3331 792" stroke-width="2" stroke-linecap="square" stroke-linejoin="miter"/>
<path d="M1021 762 L1081 762" stroke-width="2" stroke-linecap="square" stroke-linejoin="miter"/>
<path d="M1561 762 L1621 762" stroke-width="2" stroke-linecap="square" stroke-linejoin="miter"/>
<path d="M2131 762 L2191 762" stroke-width="2" stroke-linecap="square" stroke-linejoin="miter"/>
<path d="M2611 762 L2701 762" stroke-width="2" stroke-linecap="square" stroke-linejoin="miter"/>
<path d="M1081 912 L1081 1062" stroke-width="2" stroke-linecap="square" stroke-linejoin="miter"/>
<path d="M1081 1062 L1201 1062" stroke-width="2" stroke-linecap="square" stroke-linejoin="miter"/>
<path d="M1321 1062 L1381 1062 L1381 1332 L1171 1332 L1171 1272" stroke-width="2" stroke-linecap="square" stroke-linejoin="miter"/>
<path d="M1351 1242 L1381 1242" stroke-width="2" stroke-linecap="square" stroke-linejoin="miter"/>
<path d="M1081 1212 L1171 1212" stroke-width="2" stroke-linecap="square" stroke-linejoin="miter"/>
<path d="M1081 1212 L1081 1302" stroke-width="2" stroke-linecap="square" stroke-linejoin="miter"/>
<path d="M1081 1422 L1081 1452" stroke-width="2" stroke-linecap="square" stroke-linejoin="miter"/>
<path d="M1621 912 L1621 1062" stroke-width="2" stroke-linecap="square" stroke-linejoin="miter"/>
<path d="M1621 1062 L1741 1062" stroke-width="2" stroke-linecap="square" stroke-linejoin="miter"/>
<path d="M1861 1062 L1921 1062 L1921 1332 L1711 1332 L1711 1272" stroke-width="2" stroke-linecap="square" stroke-linejoin="miter"/>
<path d="M1891 1242 L1921 1242" stroke-width="2" stroke-linecap="square" stroke-linejoin="miter"/>
<path d="M1621 1212 L1711 1212" stroke-width="2" stroke-linecap="square" stroke-linejoin="miter"/>
<path d="M1621 1212 L1621 1302" stroke-width="2" stroke-linecap="square" stroke-linejoin="miter"/>
<path d="M1621 1422 L1621 1452" stroke-width="2" stroke-linecap="square" stroke-linejoin="miter"/>
<path d="M2191 912 L2191 1062" stroke-width="2" stroke-linecap="square" stroke-linejoin="miter"/>
<path d="M2191 1062 L2311 1062" stroke-width="2" stroke-linecap="square" stroke-linejoin="miter"/>
<path d="M2431 1062 L2491 1062 L2491 1332 L2281 1332 L2281 1272" stroke-width="2" stroke-linecap="square" stroke-linejoin="miter"/>
<path d="M2461 1242 L2491 1242" stroke-width="2" stroke-linecap="square" stroke-linejoin="miter"/>
<path d="M2191 1212 L2281 1212" stroke-width="2" stroke-linecap="square" stroke-linejoin="miter"/>
<path d="M2191 1212 L2191 1302" stroke-width="2" stroke-linecap="square" stroke-linejoin="miter"/>
<path d="M2191 1422 L2191 1452" stroke-width="2" stroke-linecap="square" stroke-linejoin="miter"/>
<path d="M2701 912 L2701 1062" stroke-width="2" stroke-linecap="square" stroke-linejoin="miter"/>
<path d="M2701 1062 L2761 1062" stroke-width="2" stroke-linecap="square" stroke-linejoin="miter"/>
<path d="M2881 1062 L2911 1062 L2911 1332 L2731 1332 L2731 1272" stroke-width="2" stroke-linecap="square" stroke-linejoin="miter"/>
<path d="M2701 1212 L2731 1212" stroke-width="2" stroke-linecap="square" stroke-linejoin="miter"/>
<path d="M2701 1212 L2701 1302" stroke-width="2" stroke-linecap="square" stroke-linejoin="miter"/>
<path d="M2701 1422 L2701 1452" stroke-width="2" stroke-linecap="square" stroke-linejoin="miter"/>
<path d="M451 1812 L631 1812" stroke-width="2" stroke-linecap="square" stroke-linejoin="miter"/>
<path d="M451 1842 L631 1842" stroke-width="2" stroke-linecap="square" stroke-linejoin="miter"/>
<path d="M451 1872 L631 1872" stroke-width="2" stroke-linecap="square" stroke-linejoin="miter"/>
<path d="M451 1902 L631 1902" stroke-width="2" stroke-linecap="square" stroke-linejoin="miter"/>
<path d="M451 1932 L631 1932" stroke-width="2" stroke-linecap="square" stroke-linejoin="miter"/>
<path d="M451 1842 L451 1902" stroke-width="2" stroke-linecap="square" stroke-linejoin="miter"/>
<path d="M631 1842 L631 1902" stroke-width="2" stroke-linecap="square" stroke-linejoin="miter"/>
<path d="M631 1872 L1891 1872" stroke-width="2" stroke-linecap="square" stroke-linejoin="miter"/>
<path d="M631 1812 L631 1722 L751 1722" stroke-width="2" stroke-linecap="square" stroke-linejoin="miter"/>
<path d="M811 1722 L1771 1722 L1771 1782" stroke-width="2" stroke-linecap="square" stroke-linejoin="miter"/>
<path d="M1711 1722 L1711 1782" stroke-width="2" stroke-linecap="square" stroke-linejoin="miter"/>
<path d="M631 1932 L631 2022 L751 2022" stroke-width="2" stroke-linecap="square" stroke-linejoin="miter"/>
<path d="M811 2022 L1771 2022 L1771 1962" stroke-width="2" stroke-linecap="square" stroke-linejoin="miter"/>
<path d="M1711 1962 L1711 2022" stroke-width="2" stroke-linecap="square" stroke-linejoin="miter"/>
<path d="M1291 1692 L1291 1752" stroke-width="2" stroke-linecap="square" stroke-linejoin="miter"/>
<path d="M1291 1842 L1291 1932" stroke-width="2" stroke-linecap="square" stroke-linejoin="miter"/>
<path d="M1291 2022 L1291 2082" stroke-width="2" stroke-linecap="square" stroke-linejoin="miter"/>
<path d="M1411 1722 L1411 1752" stroke-width="2" stroke-linecap="square" stroke-linejoin="miter"/>
<path d="M1411 1842 L1411 1932" stroke-width="2" stroke-linecap="square" stroke-linejoin="miter"/>
<g fill="#0eaf78" stroke="none">
<polygon points="1079.5,1056 1083.5,1056 1088,1060.5 1088,1064.5 1083.5,1069 1079.5,1069 1075,1064.5 1075,1060.5"/>
<polygon points="1079.5,1206 1083.5,1206 1088,1210.5 1088,1214.5 1083.5,1219 1079.5,1219 1075,1214.5 1075,1210.5"/>
<polygon points="1379.5,1236 1383.5,1236 1388,1240.5 1388,1244.5 1383.5,1249 1379.5,1249 1375,1244.5 1375,1240.5"/>
<polygon points="1619.5,1056 1623.5,1056 1628,1060.5 1628,1064.5 1623.5,1069 1619.5,1069 1615,1064.5 1615,1060.5"/>
<polygon points="1619.5,1206 1623.5,1206 1628,1210.5 1628,1214.5 1623.5,1219 1619.5,1219 1615,1214.5 1615,1210.5"/>
<polygon points="1919.5,1236 1923.5,1236 1928,1240.5 1928,1244.5 1923.5,1249 1919.5,1249 1915,1244.5 1915,1240.5"/>
<polygon points="2189.5,1056 2193.5,1056 2198,1060.5 2198,1064.5 2193.5,1069 2189.5,1069 2185,1064.5 2185,1060.5"/>
<polygon points="2189.5,1206 2193.5,1206 2198,1210.5 2198,1214.5 2193.5,1219 2189.5,1219 2185,1214.5 2185,1210.5"/>
<polygon points="2489.5,1236 2493.5,1236 2498,1240.5 2498,1244.5 2493.5,1249 2489.5,1249 2485,1244.5 2485,1240.5"/>
<polygon points="2699.5,1056 2703.5,1056 2708,1060.5 2708,1064.5 2703.5,1069 2699.5,1069 2695,1064.5 2695,1060.5"/>
<polygon points="2699.5,1206 2703.5,1206 2708,1210.5 2708,1214.5 2703.5,1219 2699.5,1219 2695,1214.5 2695,1210.5"/>
<polygon points="2909.5,1236 2913.5,1236 2918,1240.5 2918,1244.5 2913.5,1249 2909.5,1249 2905,1244.5 2905,1240.5"/>
<polygon points="539.5,276 543.5,276 548,280.5 548,284.5 543.5,289 539.5,289 535,284.5 535,280.5"/>
<polygon points="599.5,276 603.5,276 608,280.5 608,284.5 603.5,289 599.5,289 595,284.5 595,280.5"/>
<polygon points="539.5,486 543.5,486 548,490.5 548,494.5 543.5,499 539.5,499 535,494.5 535,490.5"/>
<polygon points="779.5,246 783.5,246 788,250.5 788,254.5 783.5,259 779.5,259 775,254.5 775,250.5"/>
<polygon points="959.5,246 963.5,246 968,250.5 968,254.5 963.5,259 959.5,259 955,254.5 955,250.5"/>
<polygon points="959.5,666 963.5,666 968,670.5 968,674.5 963.5,679 959.5,679 955,674.5 955,670.5"/>
<polygon points="1169.5,396 1173.5,396 1178,400.5 1178,404.5 1173.5,409 1169.5,409 1165,404.5 1165,400.5"/>
<polygon points="1349.5,276 1353.5,276 1358,280.5 1358,284.5 1353.5,289 1349.5,289 1345,284.5 1345,280.5"/>
<polygon points="959.5,996 963.5,996 968,1000.5 968,1004.5 963.5,1009 959.5,1009 955,1004.5 955,1000.5"/>
<polygon points="1499.5,996 1503.5,996 1508,1000.5 1508,1004.5 1503.5,1009 1499.5,1009 1495,1004.5 1495,1000.5"/>
<polygon points="2069.5,996 2073.5,996 2078,1000.5 2078,1004.5 2073.5,1009 2069.5,1009 2065,1004.5 2065,1000.5"/>
<polygon points="1499.5,666 1503.5,666 1508,670.5 1508,674.5 1503.5,679 1499.5,679 1495,674.5 1495,670.5"/>
<polygon points="2069.5,666 2073.5,666 2078,670.5 2078,674.5 2073.5,679 2069.5,679 2065,674.5 2065,670.5"/>
<polygon points="1889.5,276 1893.5,276 1898,280.5 1898,284.5 1893.5,289 1889.5,289 1885,284.5 1885,280.5"/>
<polygon points="1889.5,157 1893.5,157 1898,161.5 1898,165.5 1893.5,170 1889.5,170 1885,165.5 1885,161.5"/>
<polygon points="2069.5,157 2073.5,157 2078,161.5 2078,165.5 2073.5,170 2069.5,170 2065,165.5 2065,161.5"/>
<polygon points="2069.5,306 2073.5,306 2078,310.5 2078,314.5 2073.5,319 2069.5,319 2065,314.5 2065,310.5"/>
<polygon points="2819.5,336 2823.5,336 2828,340.5 2828,344.5 2823.5,349 2819.5,349 2815,344.5 2815,340.5"/>
<polygon points="2909.5,336 2913.5,336 2918,340.5 2918,344.5 2913.5,349 2909.5,349 2905,344.5 2905,340.5"/>
<polygon points="2909.5,516 2913.5,516 2918,520.5 2918,524.5 2913.5,529 2909.5,529 2905,524.5 2905,520.5"/>
<polygon points="449.5,1836 453.5,1836 458,1840.5 458,1844.5 453.5,1849 449.5,1849 445,1844.5 445,1840.5"/>
<polygon points="449.5,1866 453.5,1866 458,1870.5 458,1874.5 453.5,1879 449.5,1879 445,1874.5 445,1870.5"/>
<polygon points="449.5,1896 453.5,1896 458,1900.5 458,1904.5 453.5,1909 449.5,1909 445,1904.5 445,1900.5"/>
<polygon points="629.5,1806 633.5,1806 638,1810.5 638,1814.5 633.5,1819 629.5,1819 625,1814.5 625,1810.5"/>
<polygon points="629.5,1836 633.5,1836 638,1840.5 638,1844.5 633.5,1849 629.5,1849 625,1844.5 625,1840.5"/>
<polygon points="629.5,1866 633.5,1866 638,1870.5 638,1874.5 633.5,1879 629.5,1879 625,1874.5 625,1870.5"/>
<polygon points="629.5,1896 633.5,1896 638,1900.5 638,1904.5 633.5,1909 629.5,1909 625,1904.5 625,1900.5"/>
<polygon points="629.5,1926 633.5,1926 638,1930.5 638,1934.5 633.5,1939 629.5,1939 625,1934.5 625,1930.5"/>
<polygon points="1139.5,1716 1143.5,1716 1148,1720.5 1148,1724.5 1143.5,1729 1139.5,1729 1135,1724.5 1135,1720.5"/>
<polygon points="1289.5,1716 1293.5,1716 1298,1720.5 1298,1724.5 1293.5,1729 1289.5,1729 1285,1724.5 1285,1720.5"/>
<polygon points="1409.5,1716 1413.5,1716 1418,1720.5 1418,1724.5 1413.5,1729 1409.5,1729 1405,1724.5 1405,1720.5"/>
<polygon points="1709.5,1716 1713.5,1716 1718,1720.5 1718,1724.5 1713.5,1729 1709.5,1729 1705,1724.5 1705,1720.5"/>
<polygon points="1139.5,1866 1143.5,1866 1148,1870.5 1148,1874.5 1143.5,1879 1139.5,1879 1135,1874.5 1135,1870.5"/>
<polygon points="1289.5,1866 1293.5,1866 1298,1870.5 1298,1874.5 1293.5,1879 1289.5,1879 1285,1874.5 1285,1870.5"/>
<polygon points="1409.5,1866 1413.5,1866 1418,1870.5 1418,1874.5 1413.5,1879 1409.5,1879 1405,1874.5 1405,1870.5"/>
<polygon points="1139.5,2016 1143.5,2016 1148,2020.5 1148,2024.5 1143.5,2029 1139.5,2029 1135,2024.5 1135,2020.5"/>
<polygon points="1289.5,2016 1293.5,2016 1298,2020.5 1298,2024.5 1293.5,2029 1289.5,2029 1285,2024.5 1285,2020.5"/>
<polygon points="1409.5,2016 1413.5,2016 1418,2020.5 1418,2024.5 1413.5,2029 1409.5,2029 1405,2024.5 1405,2020.5"/>
<polygon points="1709.5,2016 1713.5,2016 1718,2020.5 1718,2024.5 1713.5,2029 1709.5,2029 1705,2024.5 1705,2020.5"/>
<polygon points="1709.5,1776 1713.5,1776 1718,1780.5 1718,1784.5 1713.5,1789 1709.5,1789 1705,1784.5 1705,1780.5"/>
<polygon points="1769.5,1776 1773.5,1776 1778,1780.5 1778,1784.5 1773.5,1789 1769.5,1789 1765,1784.5 1765,1780.5"/>
<polygon points="1709.5,1956 1713.5,1956 1718,1960.5 1718,1964.5 1713.5,1969 1709.5,1969 1705,1964.5 1705,1960.5"/>
<polygon points="1769.5,1956 1773.5,1956 1778,1960.5 1778,1964.5 1773.5,1969 1769.5,1969 1765,1964.5 1765,1960.5"/>
</g></g>
</svg></body></html>
